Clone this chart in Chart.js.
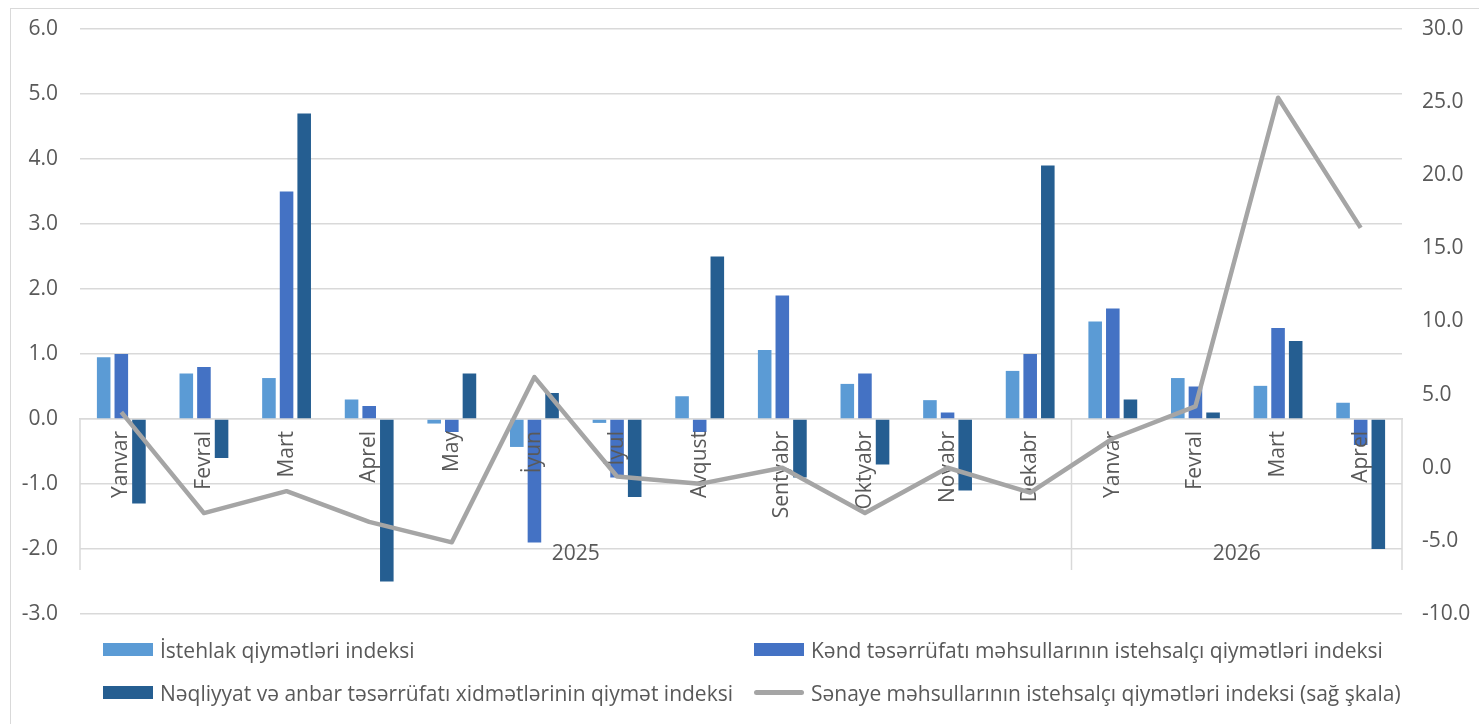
<!DOCTYPE html>
<html>
<head>
<meta charset="utf-8">
<script src="https://cdn.jsdelivr.net/npm/chart.js"></script>
<style>
    html, body { margin: 0; padding: 0; background: #fff; overflow: hidden; }
    #frame { position: absolute; left: 10px; top: 8px; width: 1600px; height: 800px; border: 1px solid #d9d9d9; }
    #chart { position: absolute; left: 0; top: 0; }
    #legend { position: absolute; left: 103px; top: 628px; width: 1300px; display: grid;
              grid-template-columns: 649px 649px; grid-auto-rows: 43px;
              font-family: 'Open Sans', sans-serif; font-size: 21px; color: #595959; }
    #legend .item { display: flex; align-items: center; white-space: nowrap; }
    #legend .key { width: 50px; height: 13px; margin-right: 7px; flex: none; }
    #legend .key.line { height: 5px; border-radius: 3px; }
    #legend .item:nth-child(even) .key { margin-left: 2px; }
</style>
</head>
<body>
<div id="frame"></div>
<canvas id="chart" width="1479" height="724"></canvas>
<div id="legend"></div>

<script>
// months, grouped by year on the category axis
const months = ['Yanvar', 'Fevral', 'Mart', 'Aprel', 'May', 'İyun', 'İyul', 'Avqust',
                'Sentyabr', 'Oktyabr', 'Noyabr', 'Dekabr', 'Yanvar', 'Fevral', 'Mart', 'Aprel'];
const years = ['2025', '2026'];
const monthsPerYear = [12, 4];

// left scale
const cpi = [0.95, 0.7, 0.63, 0.3, -0.07, -0.43, -0.06, 0.35, 1.06, 0.54, 0.29, 0.74, 1.5, 0.63, 0.51, 0.25];
const agri = [1.0, 0.8, 3.5, 0.2, -0.2, -1.9, -0.9, -0.2, 1.9, 0.7, 0.1, 1.0, 1.7, 0.5, 1.4, -0.4];
const transport = [-1.3, -0.6, 4.7, -2.5, 0.7, 0.4, -1.2, 2.5, -0.9, -0.7, -1.1, 3.9, 0.3, 0.1, 1.2, -2.0];
// right scale
const industry = [3.8, -3.1, -1.6, -3.7, -5.1, 6.2, -0.6, -1.1, 0.0, -3.1, 0.0, -1.7, 2.0, 4.2, 25.3, 16.4];

const leftTicks = { min: -3, max: 6, step: 1 };
const rightTicks = { min: -10, max: 30, step: 5 };

const gridColor = '#d9d9d9';
const textColor = '#595959';

Chart.defaults.font.family = "'Open Sans', sans-serif";
Chart.defaults.font.size = 21;
Chart.defaults.color = textColor;

// year level of the category axis: separators + year names
const yearGroups = {
    id: 'yearGroups',
    beforeDatasetsDraw(chart) {
        const ctx = chart.ctx;
        const x = chart.scales.x;
        const y0 = chart.scales.y.getPixelForValue(0);
        const half = (x.getPixelForValue(1) - x.getPixelForValue(0)) / 2;
        let start = 0;
        const edges = [chart.chartArea.left];
        ctx.save();
        ctx.font = "21px 'Open Sans', sans-serif";
        ctx.fillStyle = textColor;
        ctx.textAlign = 'center';
        ctx.textBaseline = 'middle';
        years.forEach(function(yr, i) {
            const end = start + monthsPerYear[i] - 1;
            const l = x.getPixelForValue(start) - half;
            const r = x.getPixelForValue(end) + half;
            edges.push(r);
            ctx.fillText(yr, (l + r) / 2, y0 + 135);
            start = end + 1;
        });
        ctx.strokeStyle = gridColor;
        ctx.lineWidth = 1.5;
        edges.forEach(function(px) {
            ctx.beginPath();
            ctx.moveTo(px, y0);
            ctx.lineTo(px, y0 + 151);
            ctx.stroke();
        });
        ctx.restore();
    },
    // month labels sit over the bars but under the line: hold the line back until the end
    beforeDatasetDraw(chart, args) {
        if (chart.data.datasets[args.index].type === 'line' && !chart.$lineLate) return false;
    },
    afterDraw(chart) {
        chart.$lineLate = true;
        chart.data.datasets.forEach(function(ds, i) {
            if (ds.type === 'line') chart.getDatasetMeta(i).controller.draw();
        });
        chart.$lineLate = false;
    }
};

// fixed axis widths, and no extra top/bottom padding from the tick labels
function fixWidth(w) {
    return function(scale) {
        scale.width = w;
        scale.paddingTop = 0;
        scale.paddingBottom = 0;
    };
}

const chart = new Chart(document.getElementById('chart'), {
    type: 'bar',
    data: {
        labels: months,
        datasets: [
            { label: 'İstehlak qiymətləri indeksi', data: cpi, backgroundColor: '#5b9bd5', order: 1 },
            { label: 'Kənd təsərrüfatı məhsullarının istehsalçı qiymətləri indeksi', data: agri, backgroundColor: '#4472c4', order: 1 },
            { label: 'Nəqliyyat və anbar təsərrüfatı xidmətlərinin qiymət indeksi', data: transport, backgroundColor: '#255e91', order: 1 },
            { label: 'Sənaye məhsullarının istehsalçı qiymətləri indeksi (sağ şkala)', data: industry, type: 'line',
              yAxisID: 'y1', borderColor: '#a5a5a5', backgroundColor: '#a5a5a5', borderWidth: 4.5,
              pointRadius: 0, tension: 0, borderJoinStyle: 'round', order: 0 },
        ],
    },
    options: {
        responsive: false,
        animation: false,
        devicePixelRatio: 1,
        categoryPercentage: 0.64,
        barPercentage: 0.77,
        layout: { padding: { top: 29, bottom: 110, left: 0, right: 0 } },
        plugins: { legend: { display: false }, tooltip: { enabled: false } },
        scales: {
            x: {
                position: { y: 0 },
                grid: { display: false, drawTicks: false },
                border: { display: true, color: gridColor, width: 1.5 },
                ticks: { minRotation: 90, maxRotation: 90, padding: 12, autoSkip: false, color: textColor, z: 1 },
            },
            y: {
                min: leftTicks.min, max: leftTicks.max,
                ticks: { stepSize: leftTicks.step, padding: 22, callback: v => v.toFixed(1) },
                grid: { color: gridColor, lineWidth: 1.5, drawTicks: false },
                border: { display: false },
                afterFit: fixWidth(80),
            },
            y1: {
                position: 'right',
                min: rightTicks.min, max: rightTicks.max,
                ticks: { stepSize: rightTicks.step, padding: 20, callback: v => v.toFixed(1) },
                grid: { display: false, drawTicks: false },
                border: { display: false },
                afterFit: fixWidth(77),
            },
        },
    },
    plugins: [yearGroups],
});

// legend in two columns, built from the datasets
const legendBox = document.getElementById('legend');
chart.data.datasets.forEach(function(ds) {
    const item = document.createElement('div');
    item.className = 'item';
    const key = document.createElement('span');
    key.className = ds.type === 'line' ? 'key line' : 'key';
    key.style.background = ds.type === 'line' ? ds.borderColor : ds.backgroundColor;
    const txt = document.createElement('span');
    txt.textContent = ds.label;
    item.appendChild(key);
    item.appendChild(txt);
    legendBox.appendChild(item);
});
</script>
</body>
</html>
